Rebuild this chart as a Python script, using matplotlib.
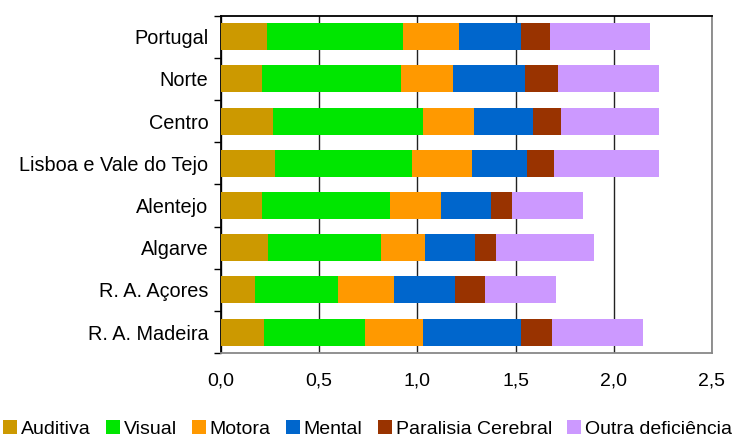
import matplotlib.pyplot as plt
from matplotlib.patches import Patch
from matplotlib.ticker import FixedLocator, FuncFormatter

plt.rcParams['font.family'] = ['Liberation Sans', 'DejaVu Sans']

regioes = ['Portugal', 'Norte', 'Centro', 'Lisboa e Vale do Tejo',
           'Alentejo', 'Algarve', 'R. A. Açores', 'R. A. Madeira']
categorias = ['Auditiva', 'Visual', 'Motora', 'Mental',
              'Paralisia Cerebral', 'Outra deficiência']

auditiva = [0.233, 0.207, 0.263, 0.273, 0.207, 0.238, 0.172, 0.217]
visual = [0.692, 0.708, 0.764, 0.698, 0.652, 0.575, 0.422, 0.515]
motora = [0.286, 0.265, 0.260, 0.306, 0.260, 0.225, 0.286, 0.295]
mental = [0.316, 0.369, 0.304, 0.280, 0.256, 0.254, 0.310, 0.500]
paralisia = [0.147, 0.166, 0.139, 0.138, 0.106, 0.107, 0.153, 0.157]
outra = [0.510, 0.515, 0.500, 0.535, 0.361, 0.499, 0.362, 0.464]

series = [auditiva, visual, motora, mental, paralisia, outra]
cores = ['#CC9900', '#00E600', '#FF9900', '#0066CC', '#993300', '#CC99FF']

fig = plt.figure(figsize=(7.35, 4.37), dpi=100)
ax = fig.add_axes([0.3007, 0.192, 0.668, 0.772])

y = list(range(len(regioes)))
base = [0.0] * len(regioes)
for vals, cor in zip(series, cores):
    ax.barh(y, vals, left=base, height=0.64, color=cor, zorder=3)
    base = [b + v for b, v in zip(base, vals)]

ax.set_xlim(0, 2.5)
ax.set_ylim(len(regioes) - 0.5, -0.5)
ax.set_xticks([0, 0.5, 1.0, 1.5, 2.0, 2.5])
ax.xaxis.set_major_formatter(FuncFormatter(lambda v, p: f'{v:.1f}'.replace('.', ',')))
ax.tick_params(axis='x', length=0, pad=14, labelsize=14)

# category names centred on the bars, tick marks between the bars
ax.yaxis.set_major_locator(FixedLocator([i - 0.5 for i in range(len(regioes) + 1)]))
ax.yaxis.set_major_formatter(FuncFormatter(lambda v, p: ''))
ax.yaxis.set_minor_locator(FixedLocator(y))
ax.set_yticklabels(regioes, minor=True)
ax.tick_params(axis='y', which='major', length=5, direction='out', width=1)
ax.tick_params(axis='y', which='minor', length=0, pad=9, labelsize=14.3)

ax.grid(axis='x', color='#222222', linewidth=1, zorder=1)
ax.spines['left'].set_color('black')
ax.spines['top'].set_color('black')
ax.spines['right'].set_color('#888888')
ax.spines['bottom'].set_color('#888888')
for s in ax.spines.values():
    s.set_linewidth(1.3)

handles = [Patch(facecolor=c, edgecolor='none') for c in cores]
fig.legend(handles, categorias, loc='lower center', bbox_to_anchor=(0.5, -0.028),
           ncol=6, frameon=False, fontsize=14, handlelength=0.7, handleheight=0.7,
           handletextpad=0.2, columnspacing=0.8, borderaxespad=0.2)

fig.savefig('out.png', dpi=100)
